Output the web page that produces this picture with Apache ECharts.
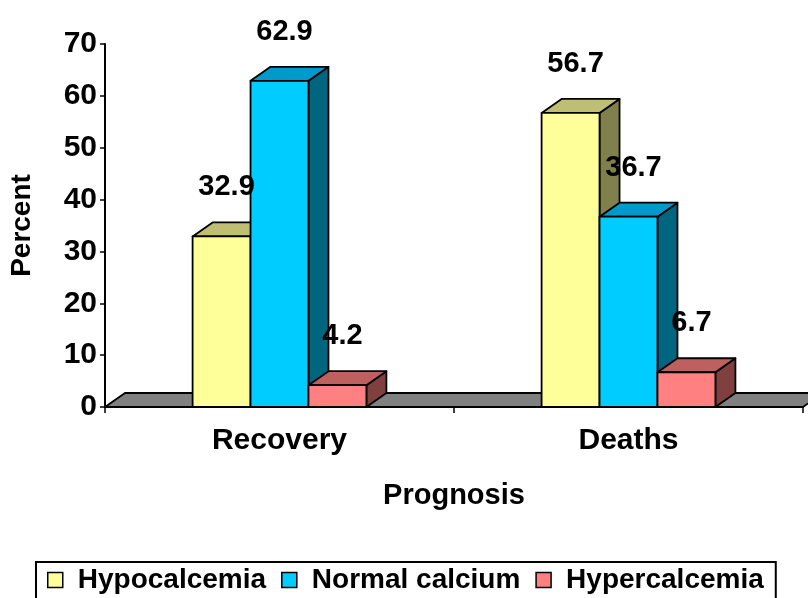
<!DOCTYPE html>
<html>
<head>
<meta charset="utf-8">
<script src="https://cdn.jsdelivr.net/npm/echarts@6/dist/echarts.min.js"></script>
<style>
  html, body { margin: 0; padding: 0; background: #ffffff; }
  #chart { width: 808px; height: 598px; }
</style>
</head>
<body>
<div id="chart"></div>
<script>
// Prognosis by serum calcium group (percent)
const categories = ['Recovery', 'Deaths'];
const seriesNames = ['Hypocalcemia', 'Normal calcium', 'Hypercalcemia'];
const hypocalcemia = [32.9, 56.7];
const normalCalcium = [62.9, 36.7];
const hypercalcemia = [4.2, 6.7];
const yTickValues = [0, 10, 20, 30, 40, 50, 60, 70];

const seriesValues = [hypocalcemia, normalCalcium, hypercalcemia];

// face shading for the pseudo-3D boxes
const frontColors = ['#FFFF99', '#00CCFF', '#FF8080'];
const topColors = ['#BFBF73', '#0099CC', '#BF6060'];
const sideColors = ['#80804C', '#006680', '#804040'];

const DX = 20;   // depth offset to the right
const DY = -14;  // depth offset upward
const FONT = "'Liberation Sans', Arial, Helvetica, sans-serif";
const BAR_RATIO = 0.166; // one bar's share of a category band

const edge = { stroke: '#000000', lineWidth: 1.8, lineJoin: 'round' };

function barRenderer(sIdx) {
  return function (params, api) {
    const cat = api.value(0);
    const val = api.value(1);
    const base = api.coord([cat, 0]);
    const top = api.coord([cat, val]);
    const band = api.size([1, 0])[0];
    const w = band * BAR_RATIO;
    const x0 = base[0] + (sIdx - 1.5) * w;
    const x1 = x0 + w;
    const yb = base[1];
    const yt = top[1];
    const z = sIdx * 4;
    return {
      type: 'group',
      children: [
        {
          type: 'polygon', z2: z,
          shape: { points: [[x1, yb], [x1 + DX, yb + DY], [x1 + DX, yt + DY], [x1, yt]] },
          style: Object.assign({ fill: sideColors[sIdx] }, edge)
        },
        {
          type: 'polygon', z2: z + 1,
          shape: { points: [[x0, yt], [x1, yt], [x1 + DX, yt + DY], [x0 + DX, yt + DY]] },
          style: Object.assign({ fill: topColors[sIdx] }, edge)
        },
        {
          type: 'rect', z2: z + 2,
          shape: { x: x0, y: yt, width: w, height: yb - yt },
          style: Object.assign({ fill: frontColors[sIdx] }, edge)
        },
        {
          type: 'text', z2: 100,
          x: (x0 + x1) / 2 + 5,
          y: yt - 49,
          style: {
            text: String(val),
            fill: '#000000',
            font: 'bold 29px ' + FONT,
            align: 'center',
            verticalAlign: 'middle'
          }
        }
      ]
    };
  };
}

// grey floor under the boxes, spanning the whole category axis
function floorRenderer(params, api) {
  const cs = params.coordSys;
  const yb = api.coord([0, 0])[1];
  const xl = cs.x;
  const xr = cs.x + cs.width;
  return {
    type: 'polygon',
    shape: { points: [[xl, yb], [xr, yb], [xr + DX, yb + DY], [xl + DX, yb + DY]] },
    style: Object.assign({ fill: '#808080' }, edge)
  };
}

const barSeries = seriesNames.map(function (name, i) {
  return {
    name: name,
    type: 'custom',
    coordinateSystem: 'cartesian2d',
    renderItem: barRenderer(i),
    itemStyle: { color: frontColors[i] },
    encode: { x: 0, y: 1 },
    data: seriesValues[i].map(function (v, c) { return [c, v]; }),
    z: 3
  };
});

const chart = echarts.init(document.getElementById('chart'), null, { renderer: 'canvas' });

chart.setOption({
  backgroundColor: '#ffffff',
  animation: false,
  textStyle: { fontFamily: FONT },
  grid: {
    left: 105, right: 5, top: 44, bottom: 191,
    containLabel: false,
    outerBoundsMode: 'none'
  },
  legend: {
    data: seriesNames,
    left: 36,
    top: 562,
    orient: 'horizontal',
    padding: [4, 12, 12, 11],
    itemGap: 15,
    itemWidth: 15,
    itemHeight: 15,
    icon: 'rect',
    itemStyle: { borderColor: '#000000', borderWidth: 1.5 },
    borderColor: '#000000',
    borderWidth: 2,
    borderRadius: 0,
    backgroundColor: '#ffffff',
    selectedMode: false,
    textStyle: {
      color: '#000000',
      fontSize: 28,
      fontWeight: 'bold',
      fontFamily: FONT,
      padding: [0, 0, 0, 10]
    }
  },
  xAxis: {
    type: 'category',
    data: categories,
    z: 10,
    boundaryGap: true,
    name: 'Prognosis',
    nameLocation: 'middle',
    nameGap: 74,
    nameTextStyle: { color: '#000000', fontSize: 29, fontWeight: 'bold', fontFamily: FONT },
    axisLine: { show: true, lineStyle: { color: '#000000', width: 2 } },
    axisTick: { show: true, alignWithLabel: false, length: 6, lineStyle: { color: '#000000', width: 1.5 } },
    axisLabel: { color: '#000000', fontSize: 30, fontWeight: 'bold', fontFamily: FONT, margin: 19 },
    splitLine: { show: false }
  },
  yAxis: {
    type: 'value',
    min: yTickValues[0],
    max: yTickValues[yTickValues.length - 1],
    interval: yTickValues[1] - yTickValues[0],
    z: 10,
    name: 'Percent',
    nameLocation: 'middle',
    nameRotate: 90,
    nameGap: 69,
    nameTextStyle: { color: '#000000', fontSize: 28, fontWeight: 'bold', fontFamily: FONT },
    axisLine: { show: true, lineStyle: { color: '#000000', width: 2 } },
    axisTick: { show: true, inside: false, length: 5, lineStyle: { color: '#000000', width: 1.5 } },
    axisLabel: { color: '#000000', fontSize: 30, fontWeight: 'bold', fontFamily: FONT, margin: 8 },
    splitLine: { show: false }
  },
  series: [
    {
      name: 'floor',
      type: 'custom',
      coordinateSystem: 'cartesian2d',
      renderItem: floorRenderer,
      data: [[0, 0]],
      encode: { x: 0, y: 1 },
      silent: true,
      z: 1
    }
  ].concat(barSeries)
});
</script>
</body>
</html>
